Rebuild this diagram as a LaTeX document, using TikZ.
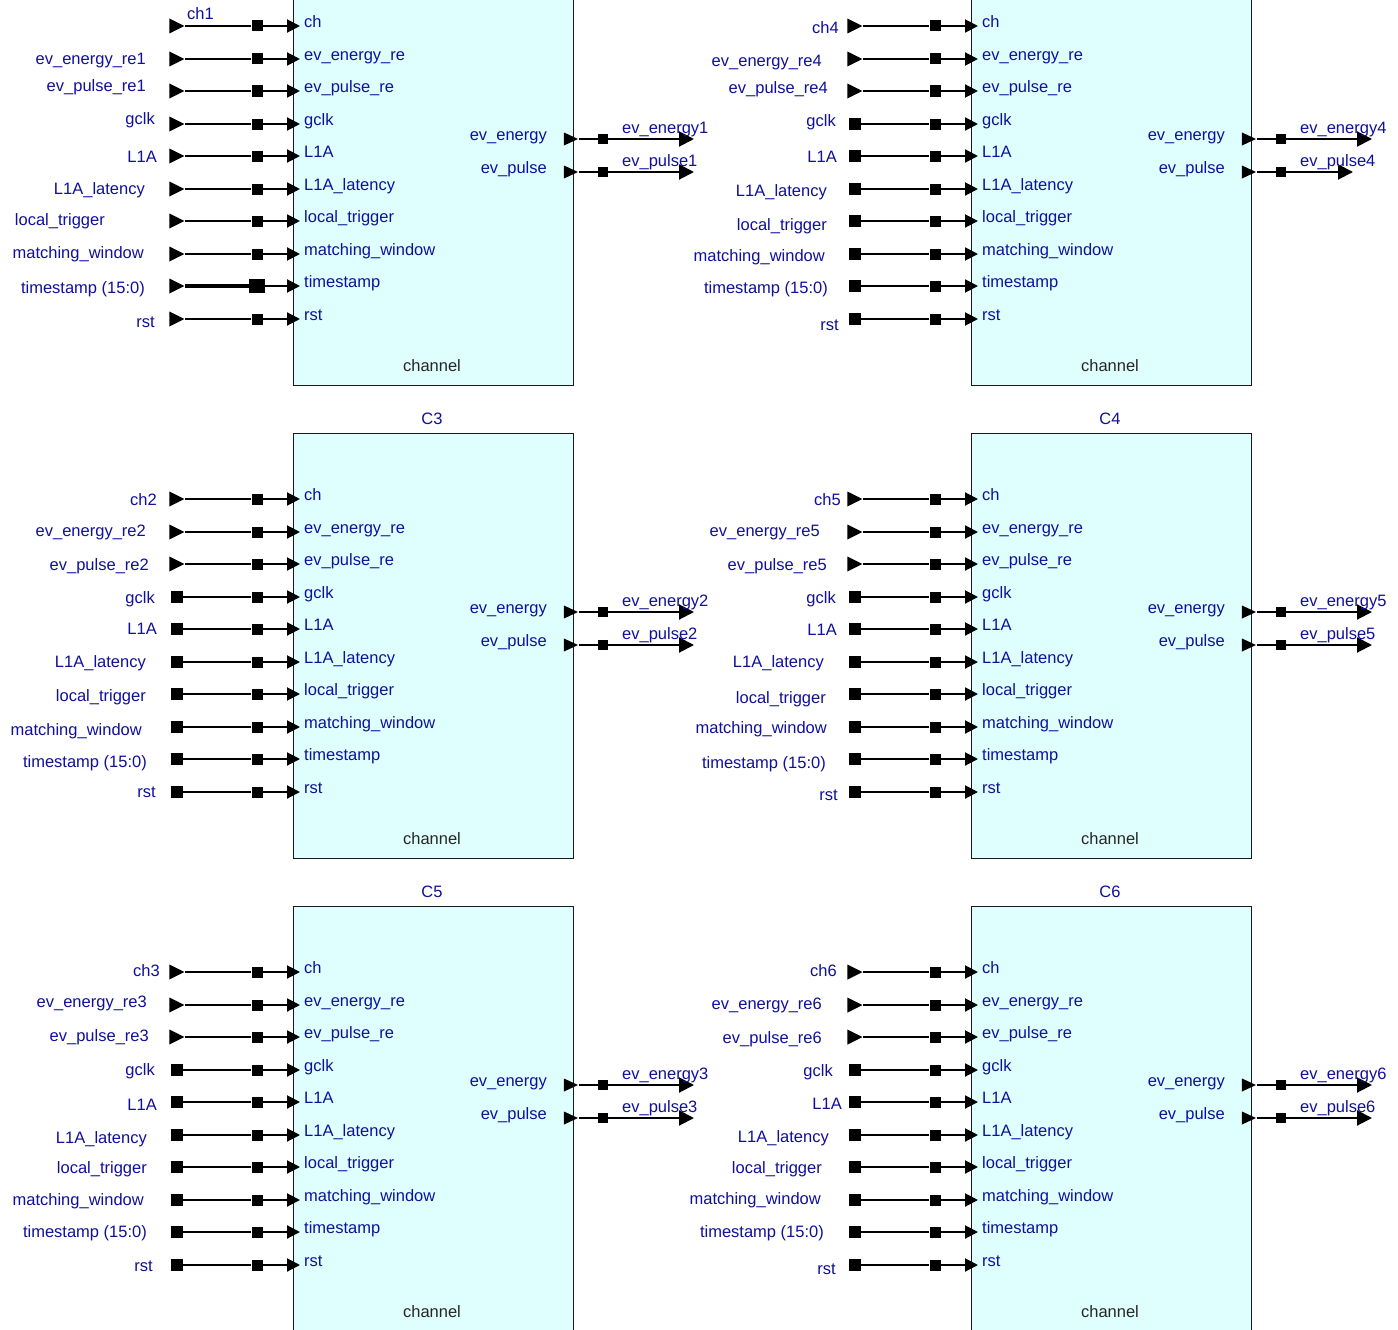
\documentclass[tikz,border=0pt]{standalone}
\usepackage{fontspec}
\setmainfont{Liberation Sans}
\usetikzlibrary{shapes.geometric,arrows.meta}
\definecolor{lbl}{RGB}{16,16,155}
\definecolor{blkfill}{RGB}{223,255,255}
\tikzset{
  blk/.style={draw=black!90, line width=1.6pt, fill=blkfill, minimum width=280pt, minimum height=425pt, inner sep=0pt, anchor=north west},
  wire/.style={line width=2pt, draw=black},
  msq/.style={fill=black, inner sep=0pt, minimum size=11pt},
  esq/.style={fill=black, inner sep=0pt, minimum size=12pt},
  osq/.style={fill=black, inner sep=0pt, minimum size=10pt},
  etri/.style={isosceles triangle, isosceles triangle stretches, shape border rotate=0, fill=black, inner sep=0pt, minimum width=15pt, minimum height=15pt, anchor=apex},
  txt/.style={font=\fontsize{16.5}{18}\selectfont, text height=12pt, text depth=3.5pt, inner sep=0pt},
  ext/.style={txt, text=lbl, anchor=east},
  extw/.style={txt, text=lbl, anchor=west},
  pinl/.style={txt, text=lbl, anchor=west},
  outl/.style={txt, text=lbl, anchor=east},
  ttl/.style={txt, text=lbl},
  chn/.style={txt, text=black!85},
}
% #1 prefix, #2 x shift, #3 top y, #4 title, #5 number of triangle ports, #6 pulse end x, #7 index
\newcommand\chanblock[7]{%
\begin{scope}[shift={(#2,#3)}]
  \node[blk] (#1) at (292.5,0.5) {};
  \ifx\relax#4\relax\else\node[ttl] (#1t) at (432,-12) {#4};\fi
  \node[chn] (#1c) at (432,408.5) {channel};
  \foreach \p [count=\i from 0] in {ch,ev\_energy\_re,ev\_pulse\_re,gclk,L1A,L1A\_latency,local\_trigger,matching\_window,timestamp,rst}{
    \pgfmathsetmacro\yy{round(67+32.5*\i)}
    \ifnum\i<#5\relax
      \node[etri] (#1e\i) at (185,\yy) {};
    \else
      \node[esq] (#1e\i) at (177,\yy) {};
    \fi
    \node[msq] (#1m\i) at (257,\yy) {};
    \coordinate (#1p\i) at (300,\yy);
    \draw[wire] (#1e\i) -- (#1m\i);
    \draw[wire,-{Triangle[length=13pt,width=13pt]}] (#1m\i) -- (#1p\i);
    \node[pinl] (#1l\i) at (304,\yy-2.5) {\p};
  }
  \foreach \q/\lab/\yy/\ex in {0/ev\_energy/180/694,1/ev\_pulse/213/#6}{
    \node[etri, minimum width=13pt, minimum height=14pt] (#1o\q) at (578.5,\yy) {};
    \node[osq] (#1q\q) at (603,\yy) {};
    \coordinate (#1z\q) at (\ex,\yy);
    \draw[wire] (#1o\q) -- (#1q\q);
    \draw[wire,-{Triangle[length=15pt,width=15pt]}] (#1q\q) -- (#1z\q);
    \node[outl] (#1r\q) at (547,\yy-2.5) {\lab};
  }
  \node[extw] (#1oe) at (622,170) {ev\_energy#7};
  \node[extw] (#1op) at (622,203) {ev\_pulse#7};
\end{scope}}
\newcommand\extlabels[2]{%
  \foreach \t/\xr/\yy [count=\k] in {#2}{\node[ext] (#1x\k) at (\xr,\yy) {\t};}}
\begin{document}
\begin{tikzpicture}[x=1pt,y=-1pt]
\useasboundingbox (0,0) rectangle (1398,1330);
\clip (0,0) rectangle (1398,1330);
\fill[white] (0,0) rectangle (1398,1330);

\chanblock{B1}{0}{-41}{}{10}{694}{1}
\chanblock{B4}{678}{-41}{}{3}{675}{4}
\chanblock{B2}{0}{432}{C3}{3}{694}{2}
\chanblock{B5}{678}{432}{C4}{3}{694}{5}
\chanblock{B3}{0}{905}{C5}{3}{694}{3}
\chanblock{B6}{678}{905}{C6}{3}{694}{6}

% bus on timestamp of the first block
\draw[line width=4.5pt] (B1e8) -- (B1m8);
\node[fill=black, inner sep=0pt, minimum width=16pt, minimum height=14pt] (B1bus) at (B1m8) {};

\node[extw] (B1x0) at (187,15) {ch1};
\extlabels{B1}{ev\_energy\_re1/146/60, ev\_pulse\_re1/146/87.5, gclk/155/120, L1A/157/158, L1A\_latency/145/190, local\_trigger/105/221, matching\_window/144/254, timestamp (15:0)/145/289, rst/155/323}
\extlabels{B4}{ch4/839/29, ev\_energy\_re4/822/62.5, ev\_pulse\_re4/828/89, gclk/836/122, L1A/837/158, L1A\_latency/827/192, local\_trigger/827/226, matching\_window/825/257, timestamp (15:0)/828/289, rst/839/326}
\extlabels{B2}{ch2/157/501, ev\_energy\_re2/146/532, ev\_pulse\_re2/149/566, gclk/155/599, L1A/157/630, L1A\_latency/146/663, local\_trigger/146/697, matching\_window/142/731, timestamp (15:0)/147/763, rst/156/793}
\extlabels{B5}{ch5/841/501, ev\_energy\_re5/820/532.5, ev\_pulse\_re5/827/566, gclk/836/599, L1A/837/631, L1A\_latency/824/663, local\_trigger/826/699, matching\_window/827/729, timestamp (15:0)/826/764, rst/838/796}
\extlabels{B3}{ch3/160/972.5, ev\_energy\_re3/147/1003, ev\_pulse\_re3/149/1037, gclk/155/1071, L1A/157/1106, L1A\_latency/147/1139, local\_trigger/147/1169, matching\_window/144/1201, timestamp (15:0)/147/1233, rst/153/1267}
\extlabels{B6}{ch6/837/972, ev\_energy\_re6/822/1005, ev\_pulse\_re6/822/1039, gclk/833/1072, L1A/842/1105, L1A\_latency/829/1138, local\_trigger/822/1169, matching\_window/821/1200, timestamp (15:0)/824/1233, rst/836/1270}
\end{tikzpicture}
\end{document}
